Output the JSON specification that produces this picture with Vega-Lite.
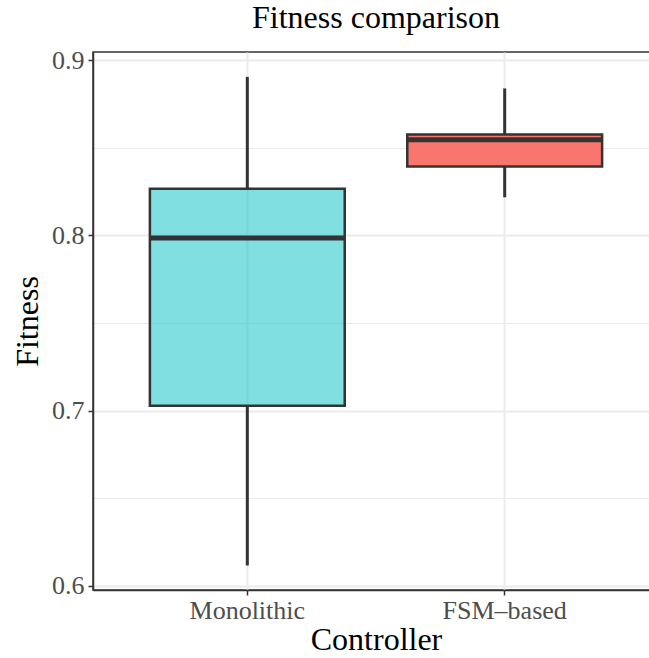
{
  "$schema": "https://vega.github.io/schema/vega-lite/v6.json",
  "autosize": {"type": "none"},
  "padding": {"left": 93, "top": 52, "right": -10, "bottom": 68},
  "width": 566,
  "height": 538,
  "background": "white",
  "title": {
    "text": "Fitness comparison",
    "font": "Liberation Serif",
    "fontSize": 32,
    "fontWeight": "normal",
    "color": "black",
    "anchor": "middle",
    "offset": 12
  },
  "config": {
    "view": {"stroke": "#333333", "strokeWidth": 1.5},
    "axis": {
      "labelFont": "Liberation Serif",
      "labelFontSize": 26,
      "labelColor": "#4D4D4D",
      "titleFont": "Liberation Serif",
      "titleFontSize": 32,
      "titleFontWeight": "normal",
      "titleColor": "black",
      "domainColor": "#333333",
      "domainWidth": 1.5,
      "tickColor": "#333333",
      "tickWidth": 1.5,
      "tickSize": 5,
      "gridColor": "#EBEBEB"
    }
  },
  "data": {
    "values": [
      {"Controller": "Monolithic", "lower": 0.6117, "q1": 0.7028, "median": 0.7985, "q3": 0.8266, "upper": 0.8905},
      {"Controller": "FSM-based", "lower": 0.8218, "q1": 0.8394, "median": 0.8546, "q3": 0.8576, "upper": 0.8839}
    ]
  },
  "encoding": {
    "x": {
      "field": "Controller",
      "type": "nominal",
      "sort": ["Monolithic", "FSM-based"],
      "scale": {"paddingInner": 0.243, "paddingOuter": 0.221},
      "axis": {
        "title": "Controller",
        "labelAngle": 0,
        "labelPadding": 2,
        "labelExpr": "replace(datum.label, '-', '–')",
        "titlePadding": 1,
        "grid": true,
        "gridWidth": 2,
        "bandPosition": 0.5
      }
    }
  },
  "layer": [
    {
      "mark": {"type": "rule", "color": "#333333", "strokeWidth": 3},
      "encoding": {
        "y": {
          "field": "lower",
          "type": "quantitative",
          "scale": {"domain": [0.5977, 0.9047], "nice": false, "zero": false},
          "axis": {
            "title": "Fitness",
            "values": [0.6, 0.65, 0.7, 0.75, 0.8, 0.85, 0.9],
            "labelExpr": "round(datum.value * 100) % 10 == 0 ? format(datum.value, '.1f') : ''",
            "labelPadding": 4,
            "titlePadding": 7,
            "grid": true,
            "gridWidth": {"condition": {"test": "round(datum.value * 100) % 10 == 0", "value": 2}, "value": 1},
            "tickOpacity": {"condition": {"test": "round(datum.value * 100) % 10 == 0", "value": 1}, "value": 0}
          }
        },
        "y2": {"field": "q1"}
      }
    },
    {
      "mark": {"type": "rule", "color": "#333333", "strokeWidth": 3},
      "encoding": {
        "y": {"field": "q3", "type": "quantitative"},
        "y2": {"field": "upper"}
      }
    },
    {
      "mark": {"type": "rect", "stroke": "#333333", "strokeWidth": 2.5},
      "encoding": {
        "y": {"field": "q1", "type": "quantitative"},
        "y2": {"field": "q3"},
        "fill": {
          "field": "Controller",
          "type": "nominal",
          "scale": {"domain": ["FSM-based", "Monolithic"], "range": ["#F8766D", "rgba(0,191,196,0.5)"]},
          "legend": null
        }
      }
    },
    {
      "mark": {"type": "rect", "stroke": "#333333", "strokeWidth": 5, "fill": null},
      "encoding": {
        "y": {"field": "median", "type": "quantitative"},
        "y2": {"field": "median"}
      }
    }
  ]
}
